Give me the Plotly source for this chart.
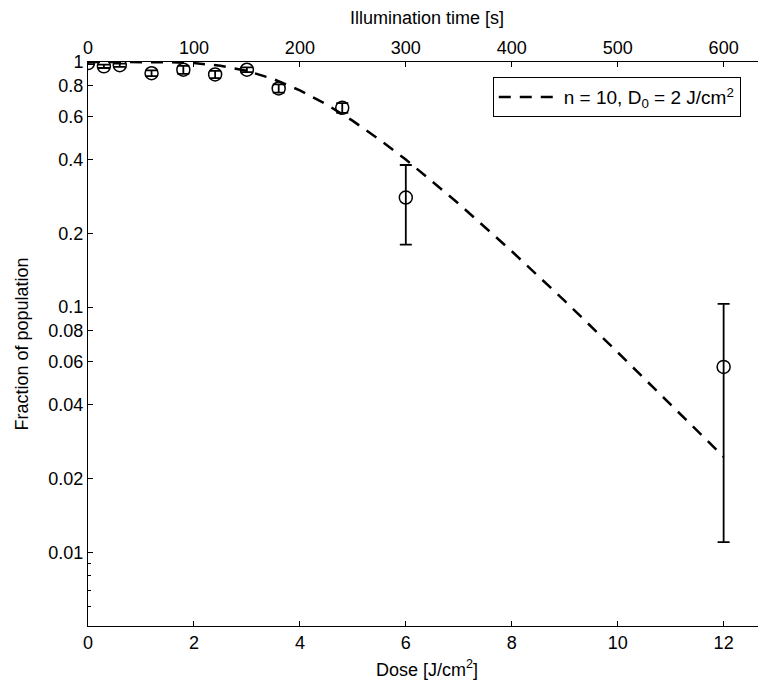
import plotly.graph_objects as go

# measured points
dose = [0, 0.3, 0.6, 1.2, 1.8, 2.4, 3.0, 3.6, 4.8, 6.0, 12.0]
fraction = [0.99, 0.96, 0.97, 0.90, 0.93, 0.89, 0.93, 0.78, 0.65, 0.28, 0.057]
fraction_err = [0.01, 0.015, 0.015, 0.025, 0.035, 0.03, 0.02, 0.03, 0.03, 0.10, 0.046]

# illumination time (s) for the top axis
time_s = [0, 15, 30, 60, 90, 120, 150, 180, 240, 300, 600]

# fitted curve, n = 10, D0 = 2 J/cm2
fit_dose = [0, 0.5, 1, 1.5, 2, 2.5, 3, 3.5, 4, 4.5, 5, 5.5, 6, 7, 8, 9, 10, 11, 12]
fit_frac = [1.0, 1.0, 1.0, 0.998, 0.99, 0.966, 0.92, 0.852, 0.766, 0.672, 0.575,
            0.483, 0.40, 0.264, 0.169, 0.106, 0.0654, 0.0402, 0.0245]

ytickvals = [0.01, 0.02, 0.04, 0.06, 0.08, 0.1, 0.2, 0.4, 0.6, 0.8, 1]
yticktext = ["0.01", "0.02", "0.04", "0.06", "0.08", "0.1", "0.2", "0.4", "0.6", "0.8", "1"]
yminor = [0.006, 0.007, 0.008, 0.009]

fnt = dict(family="Liberation Sans, Arial, sans-serif", size=18, color="black")

fig = go.Figure()
fig.add_trace(go.Scatter(
    x=fit_dose, y=fit_frac, mode="lines",
    line=dict(color="black", width=2.5, dash="12px,9px"),
    name="n = 10, D<sub>0</sub> = 2 J/cm<sup>2</sup>"))
fig.add_trace(go.Scatter(
    x=dose, y=fraction, mode="markers",
    marker=dict(symbol="circle-open", size=13, color="black", line=dict(width=1.5)),
    error_y=dict(type="data", array=fraction_err, color="black", thickness=1.8, width=6),
    showlegend=False))
fig.add_trace(go.Scatter(
    x=time_s, y=fraction, xaxis="x2", mode="markers",
    marker=dict(opacity=0), hoverinfo="skip", showlegend=False))

axis_common = dict(showgrid=False, zeroline=False, showline=True, linecolor="black",
                   linewidth=1, ticks="inside", ticklen=5, tickcolor="black",
                   tickfont=fnt, automargin=False)

# the page body adds an 8px margin all round, so the figure is 16px smaller in height
fig.update_layout(
    width=758, height=672,
    margin=dict(l=80, r=0, t=54, b=54),
    plot_bgcolor="white", paper_bgcolor="white",
    font=fnt,
    xaxis=dict(range=[0, 12.8], tickvals=[0, 2, 4, 6, 8, 10, 12],
               title=dict(text="Dose [J/cm<sup>2</sup>]", font=fnt),
               **axis_common),
    xaxis2=dict(range=[0, 640], overlaying="x", side="top",
                tickvals=[0, 100, 200, 300, 400, 500, 600],
                title=dict(text="Illumination time [s]", font=fnt),
                **axis_common),
    yaxis=dict(type="log", range=[-2.30103, 0], tickvals=ytickvals, ticktext=yticktext,
               minor=dict(tickvals=yminor, ticks="inside", ticklen=3, tickcolor="black"),
               title=dict(text="Fraction of population", font=fnt),
               **axis_common),
    legend=dict(x=0.597, y=0.973, xanchor="left", yanchor="top", itemwidth=60,
                bgcolor="white", bordercolor="black", borderwidth=1,
                font=dict(family=fnt["family"], size=19, color="black")),
)

fig.write_html("out.html")
